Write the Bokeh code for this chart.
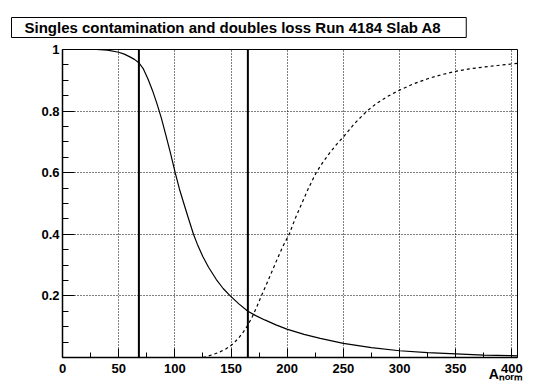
from bokeh.plotting import figure
from bokeh.models import Range1d, FixedTicker, Span
from bokeh.embed import file_html
from bokeh.resources import INLINE

# ---------------- data ----------------
singles_x = [0, 20, 30, 40, 50, 55, 60, 64, 68, 72, 76, 80, 84, 88, 92, 96,
             100.3, 104, 108, 112, 116.6, 120, 125, 130, 136.8, 143, 149.3,
             157, 165, 172, 180, 190, 199.7, 215, 229.4, 250, 275, 300, 325,
             350, 375, 400, 405]
singles_y = [1.0, 1.0, 1.0, 0.998, 0.991, 0.985, 0.976, 0.968, 0.957, 0.937,
             0.905, 0.868, 0.825, 0.777, 0.722, 0.665, 0.60, 0.548, 0.50,
             0.453, 0.40, 0.368, 0.327, 0.293, 0.254, 0.224, 0.20, 0.174,
             0.150, 0.136, 0.122, 0.106, 0.092, 0.075, 0.062, 0.046, 0.032,
             0.022, 0.016, 0.012, 0.008, 0.006, 0.005]

doubles_x = [125, 130, 135, 140, 145, 149.3, 153, 157, 161, 165, 169, 173,
             177, 183, 190, 196, 201.8, 207, 213, 219, 225.8, 232, 238, 244,
             250, 260, 270.9, 280, 290, 300, 312, 325, 337, 350, 362, 375,
             387, 400, 405]
doubles_y = [0.0, 0.005, 0.011, 0.018, 0.027, 0.037, 0.049, 0.064, 0.083,
             0.105, 0.133, 0.165, 0.20, 0.25, 0.31, 0.36, 0.40, 0.45, 0.50,
             0.55, 0.60, 0.635, 0.665, 0.692, 0.716, 0.76, 0.80, 0.826, 0.849,
             0.868, 0.888, 0.905, 0.918, 0.929, 0.937, 0.943, 0.948, 0.953,
             0.955]

cut_positions = [68, 165]

x_ticks = [0, 50, 100, 150, 200, 250, 300, 350, 400]
x_minor_ticks = [25, 75, 125, 175, 225, 275, 325, 375]
y_ticks = [0.2, 0.4, 0.6, 0.8, 1.0]
y_tick_labels = ["0.2", "0.4", "0.6", "0.8", "1"]
y_minor_ticks = [0.05, 0.1, 0.15, 0.25, 0.3, 0.35, 0.45, 0.5, 0.55, 0.65,
                 0.7, 0.75, 0.85, 0.9, 0.95]

title_text = "Singles contamination and doubles loss Run 4184 Slab A8"
x_title = "A\u2099\u2092\u1d63\u2098"   # A with subscript "norm"

X_MIN, X_MAX = 0, 405
Y_MIN, Y_MAX = 0, 1

FONT = "Liberation Sans"

# ---------------- figure ----------------
p = figure(width=534, height=385, x_range=Range1d(X_MIN, X_MAX),
           y_range=Range1d(Y_MIN, Y_MAX), output_backend="svg",
           toolbar_location=None, min_border_left=62, min_border_right=17,
           min_border_top=49, min_border_bottom=28)
p.background_fill_color = "white"
p.border_fill_color = "white"
p.outline_line_color = "black"
p.outline_line_width = 1

# title box
t = p.title
t.text = title_text
t.align = "left"
t.vertical_align = "top"
t.offset = -51
t.standoff = 20
t.text_font = FONT
t.text_font_style = "bold"
t.text_font_size = "15px"
t.text_color = "black"
t.background_fill_color = "white"
t.border_line_color = "black"
t.border_line_width = 1
t.padding = dict(left=13, right=25, top=1, bottom=2)

# axes
xa = p.xaxis[0]
xa.ticker = FixedTicker(ticks=x_ticks, minor_ticks=x_minor_ticks)
ya = p.yaxis[0]
ya.ticker = FixedTicker(ticks=y_ticks, minor_ticks=y_minor_ticks)
ya.major_label_overrides = {tk: lb for tk, lb in zip(y_ticks, y_tick_labels)}

for ax in (xa, ya):
    ax.axis_line_color = "black"
    ax.axis_line_width = 1.5
    ax.major_tick_line_color = "black"
    ax.minor_tick_line_color = "black"
    ax.major_tick_out = 0
    ax.minor_tick_out = 0
    ax.major_label_text_font = FONT
    ax.major_label_text_font_style = "bold"
    ax.major_label_text_font_size = "13px"
    ax.major_label_text_color = "black"

xa.major_tick_in = 9
xa.minor_tick_in = 5
xa.major_label_standoff = 6
ya.major_tick_in = 12
ya.minor_tick_in = 6
ya.major_label_standoff = 3

xa.axis_label = x_title + "      "
xa.axis_label_text_font = FONT
xa.axis_label_text_font_style = "bold"
xa.axis_label_text_font_size = "14px"
xa.axis_label_text_color = "black"
xa.axis_label_align = "end"
xa.axis_label_standoff = -10

# grids
p.xgrid.ticker = FixedTicker(ticks=x_ticks)
p.ygrid.ticker = FixedTicker(ticks=y_ticks)
for g in (p.xgrid[0], p.ygrid[0]):
    g.grid_line_color = "black"
    g.grid_line_dash = "1 2"
    g.grid_line_width = 1

# curves
p.line(singles_x, singles_y, line_color="black", line_width=1.2)
p.line(doubles_x, doubles_y, line_color="black", line_width=1.2,
       line_dash="3 3")

# cut lines
for c in cut_positions:
    p.add_layout(Span(location=c, dimension="height", line_color="black",
                      line_width=2))

open("out.html", "w").write(file_html(p, INLINE))
